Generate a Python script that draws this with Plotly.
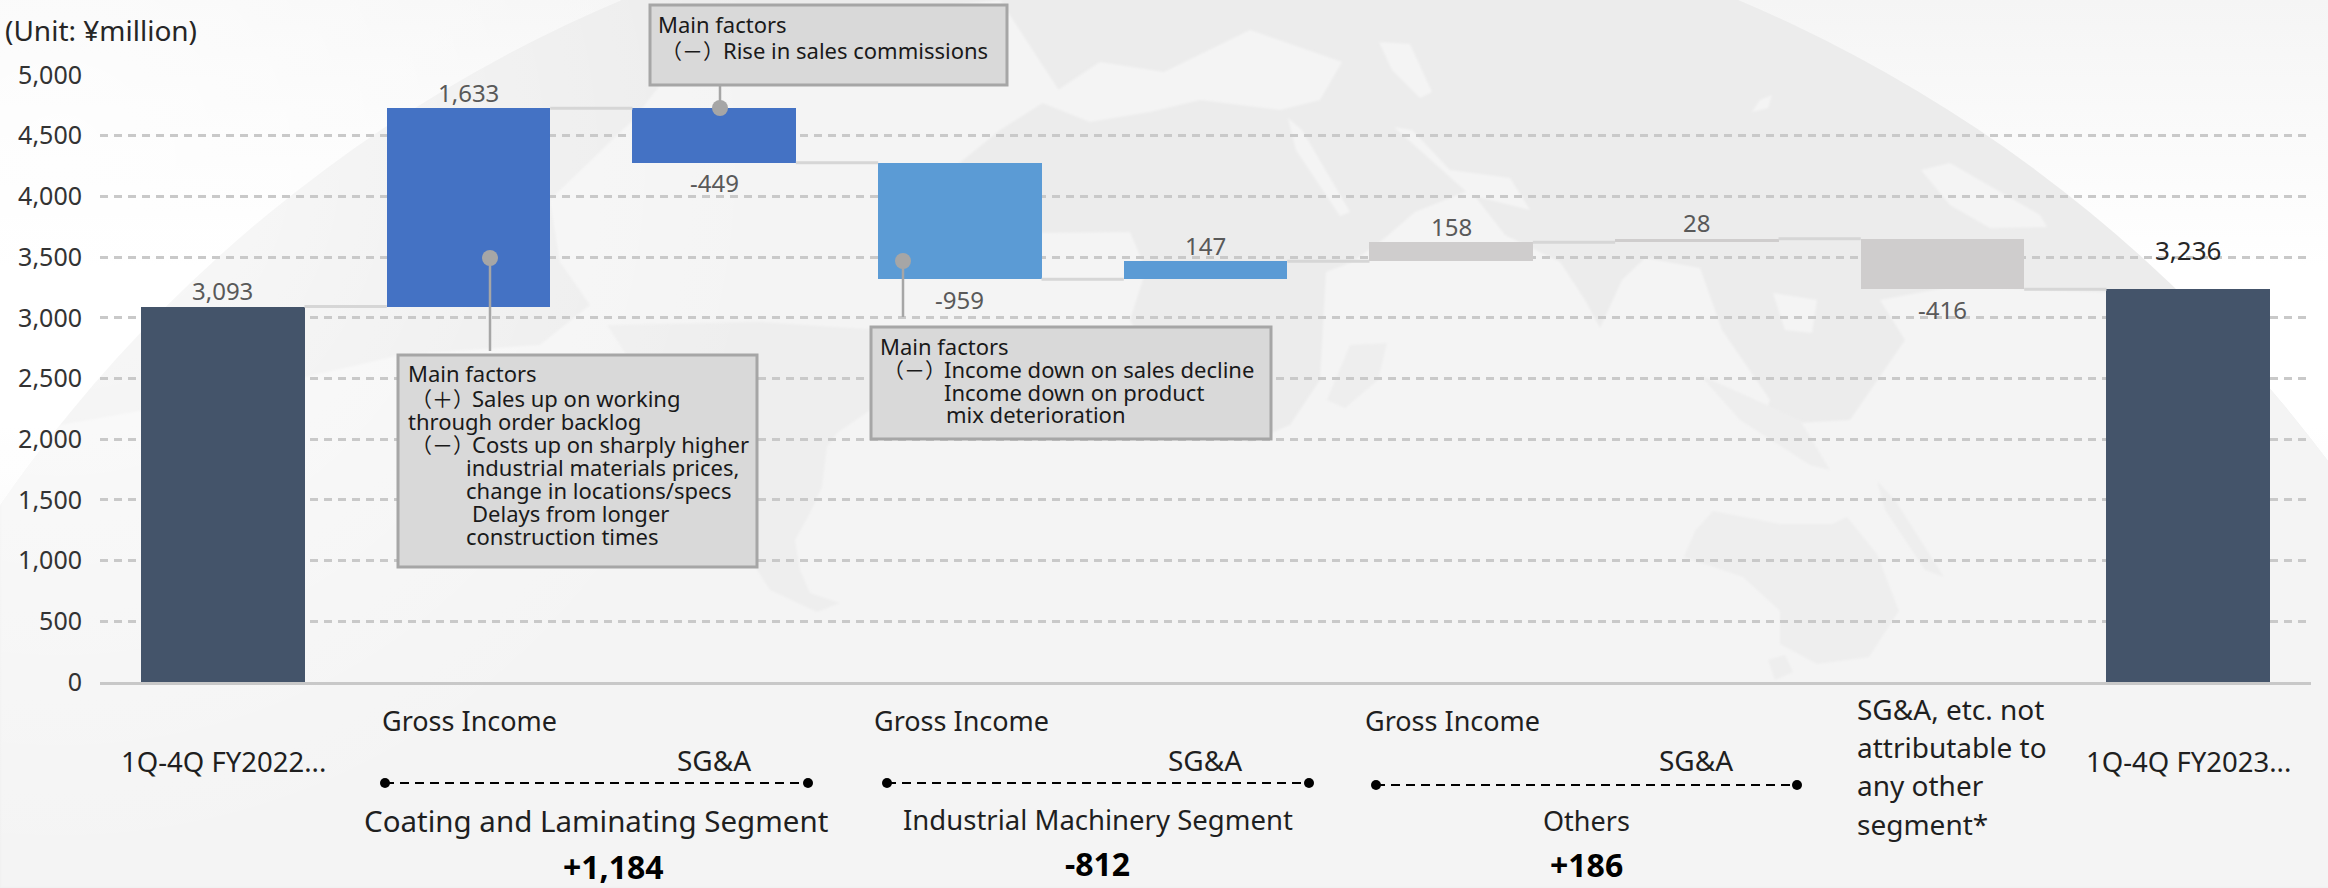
import base64
import plotly.graph_objects as go

# Operating income bridge, FY2022 to FY2023 (unit: million yen)
steps = [3093, 1633, -449, -959, 147, 158, 28, -416, 3236]
step_labels = ["3,093", "1,633", "-449", "-959", "147", "158", "28", "-416", "3,236"]
step_colors = ["#44546a", "#4472c4", "#4472c4", "#5b9bd5", "#5b9bd5",
               "#cfcdcd", "#cfcdcd", "#cfcdcd", "#44546a"]
y_ticks = [0, 500, 1000, 1500, 2000, 2500, 3000, 3500, 4000, 4500, 5000]

W, H = 2328, 888
ML, MR, MT, MB = 100, 17, 75, 206
PW, PH = W - ML - MR, H - MT - MB
FONT = "Noto Sans, sans-serif"
CJK = "Noto Sans CJK JP, sans-serif"


def sx(x):
    """Page pixel column to the plot's paper coordinate."""
    return (x - ML) / PW


def sy(y):
    """Page pixel row to the plot's paper coordinate."""
    return 1 - (y - MT) / PH


# Running totals give each floating bar its base and top
bases, heights, levels = [], [], []
running = 0
for i, v in enumerate(steps):
    if i in (0, len(steps) - 1):
        bases.append(0)
        heights.append(v)
        running = v
    else:
        bases.append(min(running, running + v))
        heights.append(abs(v))
        running += v
    levels.append(running)

BAR_W = 0.665
conn_x, conn_y = [], []
for i in range(len(steps) - 1):
    conn_x += [i + BAR_W / 2, i + 1 - BAR_W / 2, None]
    conn_y += [levels[i], levels[i], None]

# Faint globe backdrop: land is the darker tone, water and sky the paler one
svg = f"""<svg xmlns='http://www.w3.org/2000/svg' width='{W}' height='{H}' viewBox='0 0 {W} {H}'>
<defs>
<linearGradient id='sky' x1='0' y1='0' x2='0' y2='1'>
<stop offset='0' stop-color='#f5f5f5'/><stop offset='0.30' stop-color='#ffffff'/>
<stop offset='0.48' stop-color='#ffffff'/><stop offset='0.72' stop-color='#f5f5f5'/>
<stop offset='1' stop-color='#f5f5f5'/></linearGradient>
<radialGradient id='haze' gradientUnits='userSpaceOnUse' cx='60' cy='160' r='720'>
<stop offset='0' stop-color='#ffffff' stop-opacity='0.75'/>
<stop offset='0.45' stop-color='#ffffff' stop-opacity='0.4'/>
<stop offset='1' stop-color='#ffffff' stop-opacity='0'/></radialGradient>
<filter id='soft'><feGaussianBlur stdDeviation='1.2'/></filter>
<clipPath id='g'><circle cx='1180' cy='1322' r='1435'/></clipPath>
</defs>
<rect width='{W}' height='{H}' fill='url(#sky)'/>
<circle cx='1180' cy='1322' r='1435' fill='#ececec'/>
<g clip-path='url(#g)' filter='url(#soft)' fill='#f4f4f4'>
<path d='M0 888 L0 470 L60 425 L230 395 L400 355 L540 345 L590 305 L560 262 L550 200 L633 120 L680 60 L800 20 L1000 0 L1060 92 L1000 130 L957 165 L985 195 L1040 233 L1130 232 L1146 270 L1130 320 L1165 380 L1205 425 L1250 442 L1290 425 L1320 380 L1326 272 L1352 262 L1385 238 L1415 212 L1470 190 L1505 235 L1560 262 L1585 300 L1600 328 L1622 280 L1645 258 L1700 268 L1722 330 L1770 400 L1760 425 L1850 420 L1905 340 L1880 300 L1960 285 L2040 290 L2330 300 L2330 888 Z'/>
<path d='M1040 102 L1100 62 L1164 72 L1250 30 L1342 62 L1320 100 L1280 110 L1200 100 L1150 112 L1090 122 Z'/>
<path d='M1379 42 L1410 44 L1432 92 L1420 98 L1392 70 Z'/>
<path d='M1288 118 L1302 130 L1350 212 L1340 216 L1296 150 Z'/>
<path d='M1394 127 L1412 130 L1450 170 L1510 178 L1530 210 L1470 195 Z'/>
<path d='M1921 170 L1950 163 L2040 215 L2047 227 L1990 228 L1950 205 Z'/>
<path d='M1773 293 L1817 300 L1812 333 L1785 330 Z'/>
<path d='M1760 100 L1772 95 L1768 108 L1752 112 Z'/>
</g>
<g clip-path='url(#g)' filter='url(#soft)' fill='#eeeeee'>
<path d='M607 325 L760 322 L880 330 L885 400 L837 433 L827 447 L822 487 L810 513 L795 540 L800 570 L810 593 L840 603 L817 612 L770 590 L757 570 L720 450 L650 392 Z'/>
<path d='M1327 400 L1350 345 L1387 343 L1378 380 L1345 408 Z'/>
<path d='M1713 511 L1780 524 L1832 524 L1847 517 L1877 554 L1899 611 L1869 657 L1817 664 L1780 644 L1780 611 L1743 577 L1684 557 L1695 531 Z'/>
<path d='M1768 660 L1785 655 L1793 672 L1775 680 Z'/>
<path d='M1877 481 L1895 500 L1944 577 L1925 570 L1885 510 Z'/>
<path d='M1700 375 L1800 420 L1830 470 L1810 465 L1740 420 Z'/>
</g>
<rect width='{W}' height='{H}' fill='url(#haze)'/>
</svg>"""
backdrop = "data:image/svg+xml;base64," + base64.b64encode(svg.encode()).decode()

fig = go.Figure()
fig.add_trace(go.Scatter(x=conn_x, y=conn_y, mode="lines", hoverinfo="skip",
                         line=dict(color="#d6d6d6", width=3), showlegend=False))
fig.add_trace(go.Bar(x=list(range(len(steps))), y=heights, base=bases, width=BAR_W,
                     marker=dict(color=step_colors, line=dict(width=0)), showlegend=False))

annotations = []


def px_text(x, y, text, size=22, color="#1a1a1a", anchor="left", family=FONT, bold=False):
    """Place a text label at pixel coordinates of the page."""
    annotations.append(dict(
        x=sx(x), y=sy(y), xref="paper", yref="paper", text=f"<b>{text}</b>" if bold else text,
        showarrow=False, xanchor=anchor, yanchor="middle", borderpad=0,
        font=dict(size=size, color=color, family=family)))


# Value labels sit above rising bars and below falling ones; the closing total rides higher
for i, (v, label) in enumerate(zip(steps, step_labels)):
    top = bases[i] + heights[i]
    below = v < 0
    closing = i == len(steps) - 1
    annotations.append(dict(
        x=i, y=bases[i] if below else top, xref="x", yref="y", text=label, showarrow=False,
        xanchor="center", yanchor="middle",
        yshift=39 if closing else (-20 if below else 16),
        font=dict(size=26 if closing else 24, family=FONT, color="#262626" if closing else "#595959")))

px_text(4, 30, "(Unit: ¥million)", size=28, color="#262626")

# Category captions under the axis
DARK = "#1f1f1f"
px_text(223, 761, "1Q-4Q FY2022...", 27.5, DARK, "center")
px_text(2188, 761, "1Q-4Q FY2023...", 27.5, DARK, "center")
for x in (381, 873, 1364):
    px_text(x, 720, "Gross Income", 27, DARK)
for x in (714, 1205, 1696):
    px_text(x, 760, "SG&amp;A", 28, DARK, "center")
px_text(596, 820, "Coating and Laminating Segment", 29.5, DARK, "center")
px_text(1098, 819, "Industrial Machinery Segment", 27.5, DARK, "center")
px_text(1586, 820, "Others", 27, DARK, "center")
px_text(613, 866, "+1,184", 32, "#000000", "center", bold=True)
px_text(1097, 863, "-812", 32, "#000000", "center", bold=True)
px_text(1586, 864, "+186", 32, "#000000", "center", bold=True)
for y, line in zip((709, 747, 785, 824),
                   ("SG&amp;A, etc. not", "attributable to", "any other", "segment*")):
    px_text(1856, y, line, 28, DARK)

# Callout boxes with their factor notes
px_text(657, 24, "Main factors")
px_text(660, 50, "（－）", 21, family=CJK)
px_text(722, 50, "Rise in sales commissions")

px_text(407, 373, "Main factors")
px_text(410, 398, "（＋）", 21, family=CJK)
px_text(471, 398, "Sales up on working")
px_text(407, 421, "through order backlog")
px_text(410, 444, "（－）", 21, family=CJK)
px_text(471, 444, "Costs up on sharply higher")
px_text(465, 467, "industrial materials prices,")
px_text(465, 490, "change in locations/specs")
px_text(471, 513, "Delays from longer")
px_text(465, 536, "construction times")

px_text(879, 346, "Main factors")
px_text(882, 369, "（－）", 21, family=CJK)
px_text(943, 369, "Income down on sales decline")
px_text(943, 392, "Income down on product")
px_text(945, 414, "mix deterioration")


def px_rect(x0, y0, x1, y1, **kw):
    return dict(type="rect", xref="paper", yref="paper", x0=sx(x0), x1=sx(x1), y0=sy(y0), y1=sy(y1), **kw)


def px_dot(x, y, r, color):
    return dict(type="circle", xref="paper", yref="paper", x0=sx(x - r), x1=sx(x + r),
                y0=sy(y - r), y1=sy(y + r), fillcolor=color, line=dict(width=0), layer="above")


def px_line(x0, y0, x1, y1, color, width, dash="solid"):
    return dict(type="line", xref="paper", yref="paper", x0=sx(x0), x1=sx(x1), y0=sy(y0), y1=sy(y1),
                line=dict(color=color, width=width, dash=dash), layer="above")


GREY = "#a6a6a6"
shapes = []
for x0, y0, x1, y1 in ((398, 355, 757, 567), (871, 327, 1271, 439), (650, 5, 1007, 85)):
    shapes.append(px_rect(x0, y0, x1, y1, fillcolor="#d9d9d9", line=dict(color=GREY, width=3), layer="above"))
for x, y0, y1 in ((490, 258, 351), (903, 261, 317), (720, 85, 108)):
    shapes.append(px_line(x, y0, x, y1, GREY, 2.5))
for x, y in ((490, 258), (903, 261), (720, 108)):
    shapes.append(px_dot(x, y, 8, GREY))

# Dashed brackets tying gross income and SG&A to their segment
for x0, x1, y in ((385, 808, 783), (887, 1309, 783), (1376, 1797, 785)):
    shapes.append(px_line(x0, y, x1, y, "#000000", 2, "9px,6px"))
    shapes.append(px_dot(x0, y, 5, "#000000"))
    shapes.append(px_dot(x1, y, 5, "#000000"))

fig.update_layout(
    width=W, height=H, autosize=False,
    margin=dict(l=ML, r=MR, t=MT, b=MB, pad=0),
    paper_bgcolor="#ffffff", plot_bgcolor="rgba(0,0,0,0)",
    bargap=0, showlegend=False, annotations=annotations, shapes=shapes,
    font=dict(family=FONT),
    images=[dict(source=backdrop, xref="paper", yref="paper", x=sx(0), y=sy(0), sizex=W / PW, sizey=H / PH,
                 xanchor="left", yanchor="top", sizing="stretch", layer="below")],
    xaxis=dict(range=[-0.5, 8.5], showgrid=False, zeroline=False, showticklabels=False, ticks="",
               showline=True, linecolor="#c8c8c8", linewidth=3),
    yaxis=dict(range=[0, 5000], tickvals=y_ticks, tickformat=",", showline=False, zeroline=False,
               gridcolor="#c9c9c9", gridwidth=2.5, griddash="8px,6px",
               tickfont=dict(size=25, color="#333333", family=FONT), ticklabelstandoff=17),
)

fig.write_html("out.html")
